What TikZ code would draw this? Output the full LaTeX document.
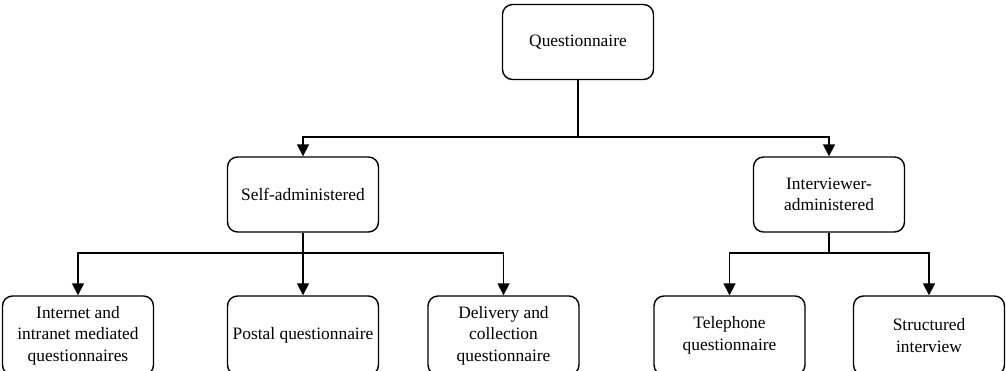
\documentclass[tikz,border=0pt]{standalone}
\usepackage{fontspec}
\setmainfont{Liberation Serif}
\usetikzlibrary{arrows.meta}
\begin{document}
\begin{tikzpicture}[x=1pt,y=-1pt,
  box/.style={draw=black, line width=1.4pt, rounded corners=10pt, fill=white,
    minimum width=151pt, minimum height=75pt, align=center, inner sep=2pt,
    font=\fontsize{17.4}{21.5}\selectfont},
  leaf/.style={box, minimum height=79pt},
  link/.style={line width=1.7pt, draw=black},
  arrow/.style={link, -{Triangle[length=12pt,width=12pt]}}]
\useasboundingbox (0,0) rectangle (1006,371);

% top level
\node[box] (q) at (578,42) {Questionnaire};
% second level
\node[box] (s) at (303,194.5) {Self-administered};
\node[box] (i) at (829,194.5) {Interviewer-\\administered};
% third level (bottom edges run off the page)
\node[leaf] (n) at (78,335.5) {Internet and\\intranet mediated\\questionnaires};
\node[leaf] (p) at (303,335.5) {Postal questionnaire};
\node[leaf] (d) at (503.5,335.5) {Delivery and\\collection\\questionnaire};
\node[leaf] (t) at (729.5,335.5) {Telephone\\questionnaire};
\node[leaf] (r) at (929,335.5) {Structured\\interview};

% bus levels
\coordinate (bus1) at (0,137);
\coordinate (bus2) at (0,253);

% connectors
\draw[link] (q.south) -- (q.south |- bus1);
\draw[arrow] (q.south |- bus1) -| (s.north);
\draw[arrow] (q.south |- bus1) -| (i.north);

\draw[link] (s.south) -- (s.south |- bus2);
\draw[arrow] (s.south |- bus2) -| (n.north);
\draw[arrow] (s.south) -- (p.north);
\draw[arrow] (s.south |- bus2) -| (d.north);

\draw[link] (i.south) -- (i.south |- bus2);
\draw[arrow] (i.south |- bus2) -| (t.north);
\draw[arrow] (i.south |- bus2) -| (r.north);
\end{tikzpicture}
\end{document}
